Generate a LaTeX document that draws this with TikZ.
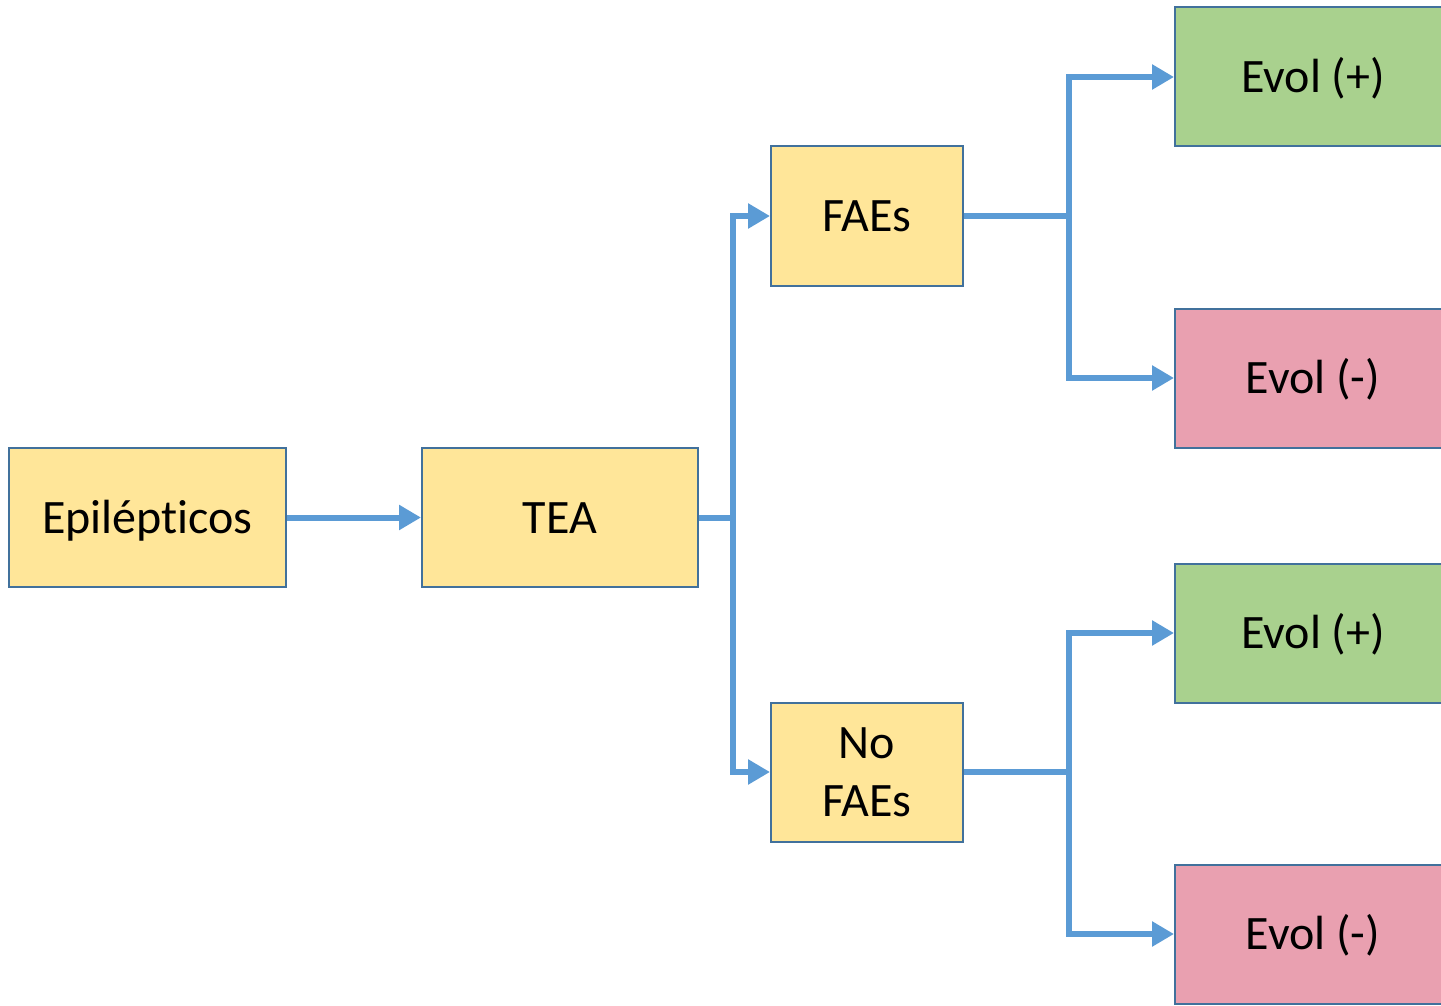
\documentclass[tikz,border=0pt]{standalone}
\usepackage{fontspec}
\setmainfont{Carlito}[Ligatures=NoCommon]
\usetikzlibrary{arrows.meta}
\definecolor{cbord}{HTML}{41719C}
\definecolor{cconn}{HTML}{5B9BD5}
\definecolor{cyel}{HTML}{FFE699}
\definecolor{cgrn}{HTML}{A9D18E}
\definecolor{cpink}{HTML}{E9A0B0}
\tikzset{
  box/.style={draw=cbord, line width=2pt, minimum height=139pt, inner sep=0pt, align=center,
    font=\fontsize{48}{58}\selectfont, text height=31pt, text depth=0pt},
  ybox/.style={box, fill=cyel},
  gbox/.style={box, fill=cgrn, minimum width=276pt},
  pbox/.style={box, fill=cpink, minimum width=276pt},
  conn/.style={draw=cconn, line width=6pt, line join=miter},
  arr/.style={conn, -{Triangle[length=22pt,width=24pt]}}
}
\begin{document}
\begin{tikzpicture}[x=1pt,y=-1pt]
\useasboundingbox (0,0) rectangle (1441,1006);
\clip (0,0) rectangle (1441,1006);
\fill[white] (0,0) rectangle (1441,1006);
\node[ybox, minimum width=277pt] (epi) at (147.5,517.5) {Epilépticos};
\node[ybox, minimum width=276pt] (tea) at (560,517.5) {TEA};
\node[ybox, minimum width=192pt] (faes) at (867,216) {FAEs};
\node[ybox, minimum width=192pt, text height=89pt] (nofaes) at (867,772) {No\\FAEs};
\node[gbox] (e1) at (1313,77) {Evol (+)};
\node[pbox] (e2) at (1313,378) {Evol (-)};
\node[gbox] (e3) at (1313,633) {Evol (+)};
\node[pbox] (e4) at (1313,934) {Evol (-)};
\coordinate (j1) at (733,517.5);
\coordinate (j2) at (1069,216);
\coordinate (j3) at (1069,772);
\draw[arr] (epi.east) -- (tea.west);
\draw[conn] (tea.east) -- (j1);
\draw[arr] (j1) |- (faes.west);
\draw[arr] (j1) |- (nofaes.west);
\draw[conn] (faes.east) -- (j2);
\draw[arr] (j2) |- (e1.west);
\draw[arr] (j2) |- (e2.west);
\draw[conn] (nofaes.east) -- (j3);
\draw[arr] (j3) |- (e3.west);
\draw[arr] (j3) |- (e4.west);
\end{tikzpicture}
\end{document}
